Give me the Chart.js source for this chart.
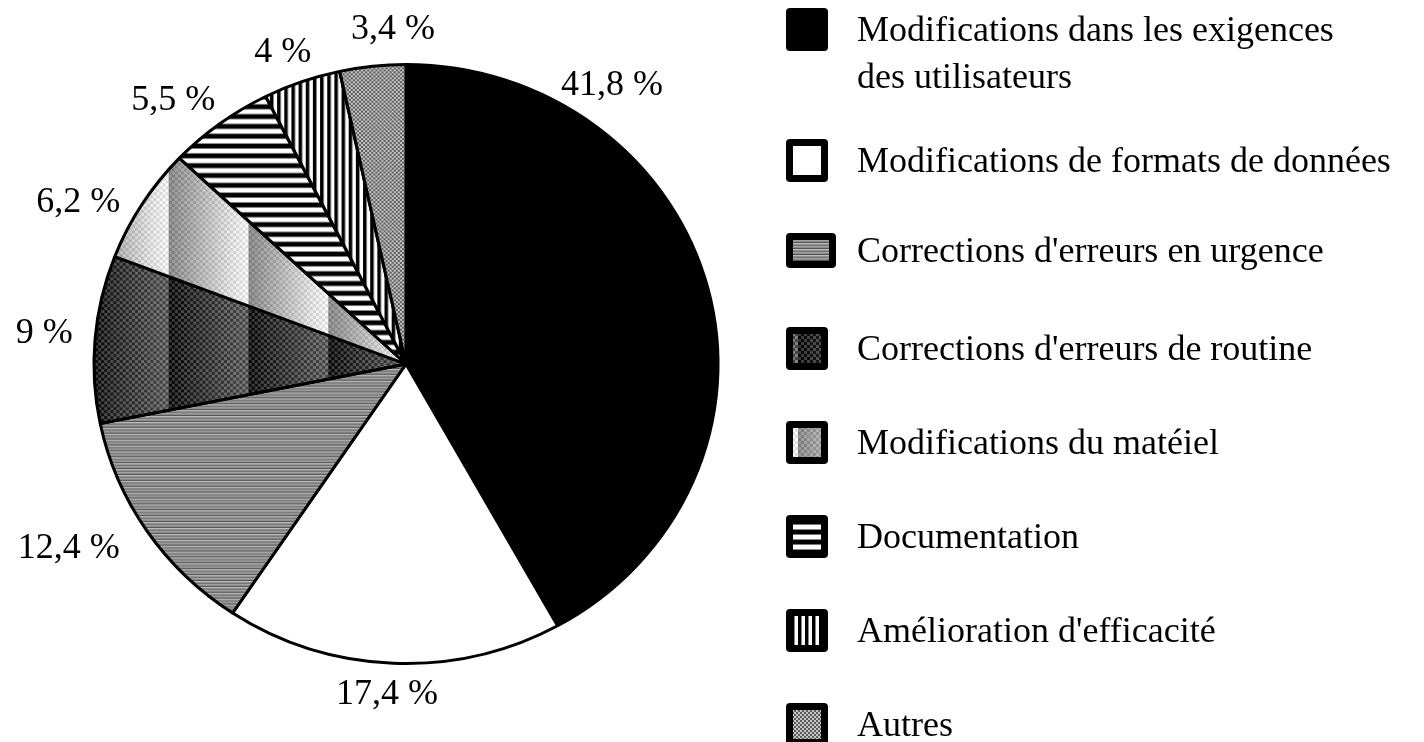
<!DOCTYPE html>
<html>
<head>
<meta charset="utf-8">
<script src="https://cdn.jsdelivr.net/npm/chart.js@4.4.0/dist/chart.umd.min.js"></script>
<style>
  html, body { margin: 0; padding: 0; background: #fff; }
  #chart { display: block; }
</style>
</head>
<body>
<canvas id="chart" width="1424" height="742"></canvas>
<script>
// Categories (legend order = clockwise slice order from 12 o'clock)
const categories = [
  ['Modifications dans les exigences', 'des utilisateurs'],
  'Modifications de formats de données',
  "Corrections d'erreurs en urgence",
  "Corrections d'erreurs de routine",
  'Modifications du matéiel',
  'Documentation',
  "Amélioration d'efficacité",
  'Autres'
];
// Share of each category, in %
const shares = [41.8, 17.4, 12.4, 9, 6.2, 5.5, 4, 3.4];

const canvas = document.getElementById('chart');
const ctx = canvas.getContext('2d');

// Small helper to paint a tile canvas
function tile(w, h, paint) {
  const c = document.createElement('canvas');
  c.width = w;
  c.height = h;
  paint(c.getContext('2d'), w, h);
  return c;
}

// Turn a tile into a repeating pattern, optionally shifted horizontally
function pattern(c, shiftX) {
  const p = ctx.createPattern(c, 'repeat');
  if (shiftX) p.setTransform(new DOMMatrix().translateSelf(shiftX, 0));
  return p;
}

// One-pixel stripes, horizontal or vertical
function stripes(colors, vertical) {
  const n = colors.length;
  return tile(vertical ? n : 1, vertical ? 1 : n, (g) => {
    colors.forEach((col, i) => {
      g.fillStyle = col;
      if (vertical) g.fillRect(i, 0, 1, 1); else g.fillRect(0, i, 1, 1);
    });
  });
}

// Plain two-colour checkerboard
function checker(cell, a, b) {
  return tile(cell * 2, cell * 2, (g) => {
    g.fillStyle = a; g.fillRect(0, 0, cell * 2, cell * 2);
    g.fillStyle = b; g.fillRect(cell, 0, cell, cell); g.fillRect(0, cell, cell, cell);
  });
}

// Horizontal gradient band with a checker texture on top
function gradientChecker(w, stops, cell, amp) {
  return tile(w, cell * 2, (g, w, h) => {
    const grad = g.createLinearGradient(0, 0, w, 0);
    stops.forEach(s => grad.addColorStop(s[0], s[1]));
    g.fillStyle = grad;
    g.fillRect(0, 0, w, h);
    for (let y = 0; y < h; y += cell) {
      for (let x = 0; x < w; x += cell) {
        g.fillStyle = ((x / cell + y / cell) % 2) ? `rgba(255,255,255,${amp})` : `rgba(0,0,0,${amp})`;
        g.fillRect(x, y, cell, cell);
      }
    }
  });
}

// Fill for every slice (same order as categories)
const fills = [
  '#000000',
  '#ffffff',
  pattern(stripes(['#a0a0a0', '#8c8c8c', '#555555', '#bcbcbc', '#909090', '#747474'], false)),
  pattern(gradientChecker(78, [[0, '#000000'], [0.25, '#1c1c1c'], [1, '#5c5c5c']], 3, 0.22), 18),
  pattern(gradientChecker(78, [[0, '#8a8a8a'], [0.8, '#ececec'], [1, '#ffffff']], 3, 0.12), 18),
  pattern(stripes(['#000', '#000', '#000', '#000', '#777', '#fff', '#fff', '#fff', '#fff', '#888'], false)),
  pattern(stripes(['#000', '#000', '#000', '#888', '#fff', '#fff', '#fff'], true)),
  pattern(checker(2, '#5e5e5e', '#c4c4c4'))
];

const serif = "'Liberation Serif', 'Times New Roman', serif";

// Slightly flatten the pie into an ellipse, as in the original figure
const pieAspect = {
  id: 'pieAspect',
  beforeDatasetsDraw(chart, args, opts) {
    const arc = chart.getDatasetMeta(0).data[0];
    const c = chart.ctx;
    c.save();
    c.translate(arc.x, arc.y);
    c.scale(opts.sx, opts.sy);
    c.translate(-arc.x, -arc.y);
  },
  afterDatasetsDraw(chart) {
    chart.ctx.restore();
  }
};

// Percentage labels outside each slice: angle (deg from 12 o'clock) and gap beyond the rim
const sliceLabels = {
  id: 'sliceLabels',
  afterDatasetsDraw(chart, args, opts) {
    const c = chart.ctx;
    const meta = chart.getDatasetMeta(0);
    c.save();
    c.font = opts.font;
    c.fillStyle = '#000';
    c.textAlign = 'center';
    c.textBaseline = 'middle';
    meta.data.forEach((arc, i) => {
      const p = arc.getProps(['x', 'y', 'startAngle', 'endAngle', 'outerRadius'], true);
      const ang = opts.angles[i] != null
        ? (opts.angles[i] - 90) * Math.PI / 180
        : (p.startAngle + p.endAngle) / 2;
      const text = String(chart.data.datasets[0].data[i]).replace('.', ',') + ' %';
      const d = p.outerRadius + opts.gaps[i];
      c.fillText(text, p.x + Math.cos(ang) * d, p.y + Math.sin(ang) * d + opts.dy);
    });
    c.restore();
  }
};

// Legend drawn on the right with framed pattern swatches
const sideLegend = {
  id: 'sideLegend',
  afterDraw(chart, args, opts) {
    const c = chart.ctx;
    const bg = chart.data.datasets[0].backgroundColor;
    c.save();
    c.font = opts.font;
    c.textBaseline = 'middle';
    c.textAlign = 'left';
    let extra = 0;
    chart.data.labels.forEach((label, i) => {
      const lines = Array.isArray(label) ? label : [label];
      const top = opts.top + i * opts.step + extra;
      const wide = i === 2;
      const bw = wide ? 50 : 42;
      const bh = wide ? 35 : 43;
      c.fillStyle = '#000';
      c.beginPath();
      c.roundRect(opts.x, top, bw, bh, 4);
      c.fill();
      c.fillStyle = bg[i];
      c.fillRect(opts.x + 7, top + 7, bw - 14, bh - 14);
      c.fillStyle = '#000';
      const cy = top + bh / 2 + 2;
      lines.forEach((line, k) => c.fillText(line, opts.textX, cy + k * opts.lineHeight));
      extra += (lines.length - 1) * opts.extraLine;
    });
    c.restore();
  }
};

new Chart(ctx, {
  type: 'pie',
  data: {
    labels: categories,
    datasets: [{
      data: shares,
      backgroundColor: fills,
      borderColor: '#000',
      borderWidth: 3,
      hoverOffset: 0,
      radius: 305
    }]
  },
  options: {
    responsive: false,
    animation: false,
    layout: { padding: { left: 86, right: 698, top: 44, bottom: 58 } },
    plugins: {
      legend: { display: false },
      tooltip: { enabled: false },
      pieAspect: { sx: 1.023, sy: 0.982 },
      sliceLabels: {
        font: '36px ' + serif,
        angles: [36.4, 183.3, 241.4, 274.9, 296.4, 318.6, 338.5, 357.8],
        gaps: [42, 25, 79, 58, 61, 47, 31, 31],
        dy: 1
      },
      sideLegend: {
        font: '36px ' + serif,
        x: 786,
        textX: 857,
        top: 8,
        step: 94,
        extraLine: 37,
        lineHeight: 47
      }
    }
  },
  plugins: [pieAspect, sliceLabels, sideLegend]
});
</script>
</body>
</html>
